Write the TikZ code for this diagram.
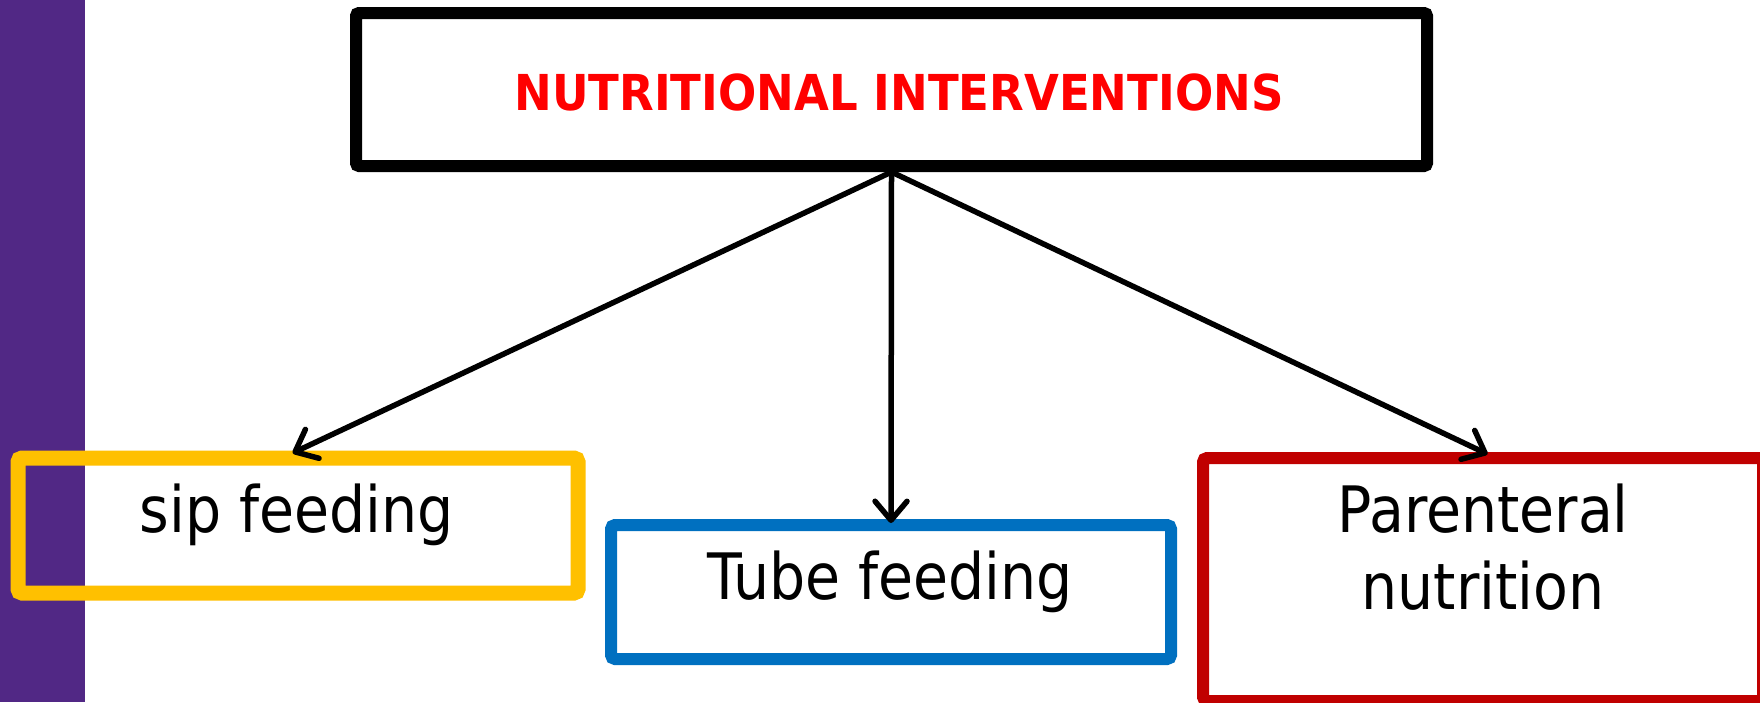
\documentclass[tikz,border=0pt]{standalone}
\usepackage{fontspec}
\usetikzlibrary{arrows.meta}
\newfontfamily\tah{DejaVu Sans}[FakeStretch=0.89]
\newfontfamily\tahb{DejaVu Sans}[FakeStretch=0.91]
\definecolor{barpurple}{RGB}{81,40,133}
\definecolor{boxyellow}{RGB}{255,192,0}
\definecolor{boxblue}{RGB}{0,112,192}
\definecolor{boxred}{RGB}{192,0,0}
\definecolor{titlered}{RGB}{255,0,0}
\tikzset{
  topbox/.style={draw=black, line width=12pt, rounded corners=3pt, inner sep=0pt,
    minimum width=1071pt, minimum height=153pt},
  subbox/.style={draw=#1, line width=12pt, rounded corners=4pt, inner sep=0pt,
    minimum width=560pt},
  boxtext/.style={font=\tah\fontsize{64}{77}\selectfont, inner sep=0pt, anchor=base, align=center},
  conn/.style={line width=5.5pt, -{Straight Barb[length=19pt,width=32pt,line join=round,line cap=round]}}
}
\begin{document}
\begin{tikzpicture}[x=1pt,y=-1pt]
\useasboundingbox (0,0) rectangle (1760,702);
\fill[white] (0,0) rectangle (1760,702);
\fill[barpurple] (0,0) rectangle (85,702);
\node[topbox] (top) at (891.5,89.5) {};
\node[font=\tahb\bfseries\fontsize{49.5}{59}\selectfont, text=titlered, inner sep=0pt, anchor=base] (title) at (899,110) {NUTRITIONAL INTERVENTIONS};
\node[subbox=boxyellow, line width=15pt, minimum height=135pt] (sip) at (298,525.5) {};
\node[subbox=boxblue, minimum height=134pt] (tube) at (891,592) {};
\node[subbox=boxred, minimum height=243pt] (par) at (1483,579.5) {};
\node[boxtext] (siptext) at (297,532) {sip feeding};
\node[boxtext] (tubetext) at (890,599) {Tube feeding};
\node[boxtext] (partext1) at (1483,532) {Parenteral};
\node[boxtext] (partext2) at (1483,609) {nutrition};
\draw[conn, shorten >=-6pt] (top.south) -- (sip.north);
\draw[conn, shorten >=-4pt] (top.south) -- (tube.north);
\draw[conn, shorten >=-5pt] (top.south) -- (par.north);
\end{tikzpicture}
\end{document}
